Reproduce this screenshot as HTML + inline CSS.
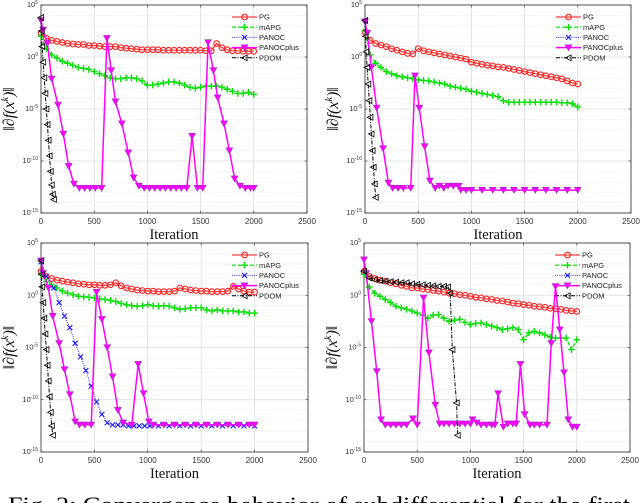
<!DOCTYPE html>
<html><head><meta charset="utf-8">
<style>
html,body{margin:0;padding:0;background:#fff;}
svg{display:block;}
text{font-family:"Liberation Sans",sans-serif;}
</style></head>
<body>
<svg id="fig" width="640" height="503" viewBox="0 0 640 503" xmlns="http://www.w3.org/2000/svg">
<text x="8" y="512" font-family="Liberation Serif,serif" style="font-family:'Liberation Serif',serif" font-size="22" textLength="622" lengthAdjust="spacingAndGlyphs">Fig. 2: Convergence behavior of subdifferential for the first</text>
</svg>
<script>
// shared iteration grid
const iters50 = [0,50,100,150,200,250,300,350,400,450,500,550,600,650,700,750,800,850,900,950,1000,1050,1100,1150,1200,1250,1300,1350,1400,1450,1500,1550,1600,1650,1700,1750,1800,1850,1900,1950,2000];
const xTicks = [0,500,1000,1500,2000,2500];
const yTicks = [5,0,-5,-10,-15];
const legendLabels = ["PG","mAPG","PANOC","PANOCplus","PDOM"];

// Panel 1 (top-left) log10 values
const p1PG = [2.3,1.8,1.6,1.5,1.4,1.3,1.25,1.2,1.2,1.1,1.1,1.05,1.0,1.0,1.0,0.9,0.85,0.8,0.75,0.7,0.7,0.7,0.7,0.65,0.65,0.65,0.65,0.65,0.65,0.65,0.65,0.6,0.6,1.3,0.9,0.7,0.6,0.6,0.55,0.55,0.55];
const p1MAPG = [2.0,0.8,0.2,-0.1,-0.4,-0.6,-0.8,-1.0,-1.1,-1.2,-1.4,-1.6,-1.8,-2.0,-2.1,-2.1,-2.0,-2.0,-2.1,-2.3,-2.7,-2.7,-2.6,-2.5,-2.4,-2.4,-2.5,-2.7,-2.9,-3.0,-2.9,-2.8,-2.8,-2.8,-2.9,-3.1,-3.3,-3.5,-3.5,-3.4,-3.6];
const p1PlusX = [0,20,60,100,160,210,260,310,360,410,460,510,570,620,660,700,760,820,870,920,970,1020,1070,1120,1170,1220,1270,1320,1370,1420,1470,1520,1570,1620,1660,1720,1770,1820,1870,1920,1970,2000];
const p1PlusY = [3.5,2.6,1.3,-2.1,-4.6,-7.4,-10.5,-12.2,-12.6,-12.6,-12.6,-12.6,-12.6,1.8,-1.3,-4.3,-6.4,-9.2,-11.6,-12.4,-12.6,-12.6,-12.6,-12.6,-12.6,-12.6,-12.6,-12.6,-12.6,-7.6,-12.6,-12.6,1.4,-1.3,-3.9,-6.4,-9.0,-11.7,-12.4,-12.6,-12.6,-12.6];
const p1PdomX = [0,5,10,20,30,40,50,60,70,80,90,100,110,120];
const p1PdomY = [3.8,2.5,1.0,-0.5,-2.0,-3.5,-5.0,-6.5,-8.0,-9.5,-11.0,-12.3,-13.2,-13.7];

// Panel 2 (top-right)
const p2PG = [2.4,1.6,1.3,1.15,1.0,0.8,0.65,0.5,0.35,0.3,0.8,0.6,0.5,0.4,0.3,0.2,0.1,0.0,-0.1,-0.2,-0.5,-0.6,-0.7,-0.8,-0.85,-0.95,-1.0,-1.1,-1.2,-1.3,-1.4,-1.5,-1.6,-1.7,-1.8,-1.9,-2.0,-2.1,-2.3,-2.5,-2.6];
const p2MAPG = [2.5,0.2,-0.6,-1.0,-1.4,-1.6,-1.8,-1.9,-2.0,-2.1,-2.2,-2.25,-2.3,-2.4,-2.5,-2.6,-2.8,-2.9,-3.0,-3.1,-3.3,-3.4,-3.5,-3.6,-3.7,-3.8,-4.2,-4.35,-4.35,-4.35,-4.35,-4.35,-4.35,-4.35,-4.35,-4.35,-4.35,-4.4,-4.4,-4.5,-4.8];
const p2PlusX = [0,20,60,110,170,220,260,310,360,430,470,510,560,610,660,700,740,780,830,880,900,950,1000,1100,1200,1300,1400,1500,1600,1700,1800,1900,2000];
const p2PlusY = [3.4,2.3,-1.0,-4.9,-8.8,-12.1,-12.6,-12.6,-12.6,-12.6,-1.8,-4.9,-8.6,-11.9,-12.6,-12.4,-12.6,-12.4,-12.4,-12.4,-12.8,-12.8,-12.8,-12.8,-12.8,-12.8,-12.8,-12.8,-12.8,-12.8,-12.8,-12.8,-12.8];
const p2PdomX = [0,5,10,20,30,40,50,60,70,80,90,100];
const p2PdomY = [3.5,2.0,0.5,-1.0,-2.6,-4.2,-5.8,-7.4,-9.0,-10.6,-12.2,-13.5];

// Panel 3 (bottom-left)
const p3PG = [2.3,1.8,1.6,1.45,1.35,1.25,1.2,1.1,1.05,1.0,1.0,0.95,0.95,1.0,1.2,0.9,0.7,0.6,0.5,0.45,0.4,0.4,0.35,0.35,0.35,0.4,0.7,0.6,0.5,0.45,0.4,0.4,0.35,0.35,0.35,0.4,0.85,0.6,0.4,0.3,0.3];
const p3MAPG = [2.0,1.3,1.0,0.7,0.4,0.2,0.05,-0.1,-0.15,-0.2,-0.25,-0.35,-0.4,-0.5,-0.6,-0.8,-0.9,-1.0,-1.05,-1.0,-0.9,-1.0,-1.05,-1.0,-1.05,-1.2,-1.35,-1.3,-1.2,-1.2,-1.2,-1.4,-1.5,-1.4,-1.5,-1.5,-1.5,-1.6,-1.6,-1.7,-1.7];
const p3PanocX = [0,50,120,170,220,270,320,370,420,470,520,570,620,670,720,770,820,870,920,970,1020,1100,1200,1300,1400,1500,1600,1700,1800,1900,2000];
const p3PanocY = [3.2,1.8,0.7,-0.7,-2.0,-3.1,-4.6,-5.9,-7.2,-8.7,-10.2,-11.4,-12.2,-12.4,-12.4,-12.4,-12.5,-12.5,-12.5,-12.5,-12.5,-12.5,-12.5,-12.5,-12.5,-12.5,-12.5,-12.5,-12.5,-12.5,-12.5];
const p3PlusX = [0,20,70,110,170,220,270,320,360,410,470,520,570,620,670,720,770,850,910,960,1010,1050,1150,1250,1350,1450,1550,1650,1750,1850,1950,2000];
const p3PlusY = [3.3,2.1,0.7,-2.0,-4.6,-7.1,-9.5,-12.1,-12.4,-12.4,-12.4,0.3,-2.3,-5.0,-7.8,-11.0,-12.2,-12.4,-6.6,-9.4,-12.1,-12.4,-12.4,-12.4,-12.4,-12.4,-12.4,-12.4,-12.4,-12.4,-12.4,-12.4];
const p3PdomX = [0,5,10,20,30,40,50,60,70,80,90,100,110];
const p3PdomY = [3.3,2.0,0.8,-0.7,-2.2,-3.7,-5.2,-6.7,-8.2,-9.7,-11.2,-12.5,-13.4];

// Panel 4 (bottom-right)
const p4PG = [2.3,1.8,1.6,1.45,1.35,1.2,1.1,0.95,0.85,0.7,0.7,0.6,0.55,0.45,0.4,0.3,0.2,0.15,0.05,0.0,-0.1,-0.2,-0.25,-0.35,-0.4,-0.5,-0.55,-0.65,-0.75,-0.8,-0.9,-0.95,-1.05,-1.1,-1.15,-1.25,-1.3,-1.35,-1.45,-1.5,-1.55];
const p4MAPG = [2.0,0.8,0.2,-0.1,-0.4,-0.7,-1.05,-1.2,-1.35,-1.5,-1.7,-1.9,-2.2,-1.9,-1.85,-2.2,-2.5,-2.4,-2.3,-2.6,-2.8,-2.7,-2.65,-2.8,-2.95,-3.1,-3.3,-3.2,-3.1,-3.3,-4.25,-3.6,-3.45,-3.6,-3.8,-4.0,-4.1,-4.1,-4.1,-5.2,-4.25];
const p4PdomX = [0,50,100,150,200,250,300,350,400,450,500,550,600,650,700,750,790,810,830,870,880];
const p4PdomY = [2.3,1.65,1.5,1.4,1.35,1.3,1.25,1.2,1.2,1.1,1.05,1.0,0.95,0.9,0.85,0.85,0.8,0.2,-5.2,-10.3,-13.4];
const p4PlusX = [0,20,70,120,160,200,250,300,350,400,460,500,560,610,670,710,750,800,850,900,950,1000,1020,1060,1100,1150,1200,1230,1260,1310,1350,1400,1430,1470,1510,1560,1600,1650,1720,1760,1800,1840,1880,1920,1960,2000];
const p4PlusY = [3.4,2.1,-2.5,-7.3,-11.9,-12.4,-12.4,-12.4,-12.4,-12.4,-11.8,-12.4,-0.25,-5.5,-10.5,-12.3,-12.3,-12.3,-12.3,-12.3,-12.3,-12.3,-11.9,-12.2,-12.4,-12.4,-12.4,-12.4,-9.4,-12.6,-12.3,-12.3,-12.3,-6.6,-11.4,-12.4,-12.4,-12.4,-12.4,-4.6,0.85,-3.3,-7.4,-11.9,-12.6,-12.6];

const panels = [
  {name:"top-left", x0:41, x1:307, yTop:5, yBot:213,
   series:{pg:p1PG, mapg:p1MAPG, plusX:p1PlusX, plusY:p1PlusY, pdomX:p1PdomX, pdomY:p1PdomY}},
  {name:"top-right", x0:365, x1:631, yTop:5, yBot:213,
   series:{pg:p2PG, mapg:p2MAPG, plusX:p2PlusX, plusY:p2PlusY, pdomX:p2PdomX, pdomY:p2PdomY}},
  {name:"bottom-left", x0:41, x1:308, yTop:243, yBot:452,
   series:{pg:p3PG, mapg:p3MAPG, panocX:p3PanocX, panocY:p3PanocY, plusX:p3PlusX, plusY:p3PlusY, pdomX:p3PdomX, pdomY:p3PdomY}},
  {name:"bottom-right", x0:364, x1:630, yTop:243, yBot:452,
   series:{pg:p4PG, mapg:p4MAPG, plusX:p4PlusX, plusY:p4PlusY, pdomX:p4PdomX, pdomY:p4PdomY}}
];

const NS="http://www.w3.org/2000/svg";
const svg=document.getElementById('fig');
function mk(tag, attrs, parent){
  const e=document.createElementNS(NS,tag);
  for(const k in attrs) e.setAttribute(k,attrs[k]);
  (parent||svg).appendChild(e);
  return e;
}

function markerAt(g, kind, x, y){
  let m;
  if(kind==="pg"){ m=mk('circle',{cx:x,cy:y,r:2.8,fill:'none',stroke:'#ff2020','stroke-width':1.1},g); }
  else if(kind==="mapg"){ m=mk('path',{d:`M${x-3.3},${y}H${x+3.3}M${x},${y-3.3}V${y+3.3}`,stroke:'#00e000','stroke-width':1.4},g); }
  else if(kind==="panoc"){ m=mk('path',{d:`M${x-2.5},${y-2.5}L${x+2.5},${y+2.5}M${x-2.5},${y+2.5}L${x+2.5},${y-2.5}`,stroke:'#1a1aff','stroke-width':1.1},g); }
  else if(kind==="plus"){ m=mk('path',{d:`M${x-3.4},${y-2.8}L${x+3.4},${y-2.8}L${x},${y+3.2}Z`,fill:'#ff00ff',stroke:'#a030c0','stroke-width':0.6},g); }
  else { m=mk('path',{d:`M${x-3},${y}L${x+2.6},${y-2.9}L${x+2.6},${y+2.9}Z`,fill:'none',stroke:'#000','stroke-width':0.8},g); }
  
  
}

const styles = {
  pg:{stroke:'#ff4040', w:1.3, dash:''},
  mapg:{stroke:'#00e000', w:1.2, dash:'4,2'},
  panoc:{stroke:'#3030ff', w:1, dash:'1,1.2'},
  plus:{stroke:'#ff00ff', w:1.5, dash:''},
  pdom:{stroke:'#000', w:1, dash:'4,1.5,1,1.5'}
};

panels.forEach(p=>{
  const g=mk('g',{});
  
  
  const sx=v=>p.x0+(v/2500)*(p.x1-p.x0);
  const sy=v=>p.yTop+((5-v)/20)*(p.yBot-p.yTop);
  for(let d=4; d>-15; d--){
    if(d%5===0) continue;
    const l=mk('line',{x1:p.x0,x2:p.x1,y1:sy(d),y2:sy(d),stroke:'#d8d8d8','stroke-width':0.6,'stroke-dasharray':'1,1.5'},g);
    
    
  }
  yTicks.forEach(t=>{
    if(t!==5 && t!==-15){
      const l=mk('line',{x1:p.x0,x2:p.x1,y1:sy(t),y2:sy(t),stroke:'#dcdcdc','stroke-width':0.8},g);
      
      
    }
    const tx=mk('text',{x:p.x0-3,y:sy(t)+2,'font-size':7.5,'text-anchor':'end',fill:'#333'},g);
    
    
    tx.textContent='10';
    const sup=mk('tspan',{dy:-3,'font-size':5},tx);
    sup.textContent=String(t);
    mk('line',{x1:p.x0,x2:p.x0+2.5,y1:sy(t),y2:sy(t),stroke:'#333','stroke-width':0.6},g);
    mk('line',{x1:p.x1,x2:p.x1-2.5,y1:sy(t),y2:sy(t),stroke:'#333','stroke-width':0.6},g);
  });
  xTicks.forEach(t=>{
    if(t!==0 && t!==2500){
      const l=mk('line',{x1:sx(t),x2:sx(t),y1:p.yTop,y2:p.yBot,stroke:'#dcdcdc','stroke-width':0.8},g);
      
      
    }
    mk('line',{x1:sx(t),x2:sx(t),y1:p.yBot,y2:p.yBot-2.5,stroke:'#333','stroke-width':0.6},g);
    mk('line',{x1:sx(t),x2:sx(t),y1:p.yTop,y2:p.yTop+2.5,stroke:'#333','stroke-width':0.6},g);
    const tx=mk('text',{x:sx(t),y:p.yBot+11,'font-size':8,'text-anchor':'middle',fill:'#333'},g);
    
    
    tx.textContent=String(t);
  });
  const box=mk('rect',{x:p.x0,y:p.yTop,width:p.x1-p.x0,height:p.yBot-p.yTop,fill:'none',stroke:'#262626','stroke-width':0.8},g);
  
  
  const xl=mk('text',{x:(p.x0+p.x1)/2,y:p.yBot+26,'font-size':14.5,'text-anchor':'middle',fill:'#111',style:"font-family:'Liberation Serif',serif"},g);
  
  
  xl.textContent='Iteration';
  const cy=(p.yTop+p.yBot)/2;
  const yl=mk('text',{x:0,y:0,'font-size':16,'text-anchor':'middle',fill:'#111',transform:`translate(${p.x0-27},${cy}) rotate(-90)`,style:"font-family:'Liberation Serif',serif;font-style:italic"},g);
  
  
  yl.textContent='‖∂f(x';
  const ks=mk('tspan',{dy:-6,'font-size':10},yl); ks.textContent='k';
  const ke=mk('tspan',{dy:6},yl); ke.textContent=')‖';

  function drawSeries(kind, xs, ys){
    const sg=mk('g',{},g);
    
    
    const st=styles[kind];
    const d=xs.map((x,i)=>(i?'L':'M')+sx(x).toFixed(2)+','+sy(ys[i]).toFixed(2)).join('');
    const path=mk('path',{d:d,fill:'none',stroke:st.stroke,'stroke-width':st.w},sg);
    if(st.dash) path.setAttribute('stroke-dasharray',st.dash);
    
    
    xs.forEach((x,i)=>markerAt(sg,kind,sx(x),sy(ys[i])));
  }
  const s=p.series;
  drawSeries('pg', iters50, s.pg);
  drawSeries('mapg', iters50, s.mapg);
  if(s.panocX) drawSeries('panoc', s.panocX, s.panocY);
  drawSeries('plus', s.plusX, s.plusY);
  drawSeries('pdom', s.pdomX, s.pdomY);

  const lg=mk('g',{},g);
  
  
  const lx0=p.x0+191, lx1=p.x0+216;
  const kinds=['pg','mapg','panoc','plus','pdom'];
  kinds.forEach((k,i)=>{
    const ly=p.yTop+12+i*10.2;
    const e=mk('g',{},lg);
    
    
    const st=styles[k];
    const ln=mk('line',{x1:lx0,x2:lx1,y1:ly,y2:ly,stroke:st.stroke,'stroke-width':st.w},e);
    if(st.dash) ln.setAttribute('stroke-dasharray',st.dash);
    markerAt(e,k,(lx0+lx1)/2,ly);
    const t=mk('text',{x:lx1+2,y:ly+2.6,'font-size':7.5,fill:'#222'},e);
    t.textContent=legendLabels[i];
  });
});
</script>
</body></html>
